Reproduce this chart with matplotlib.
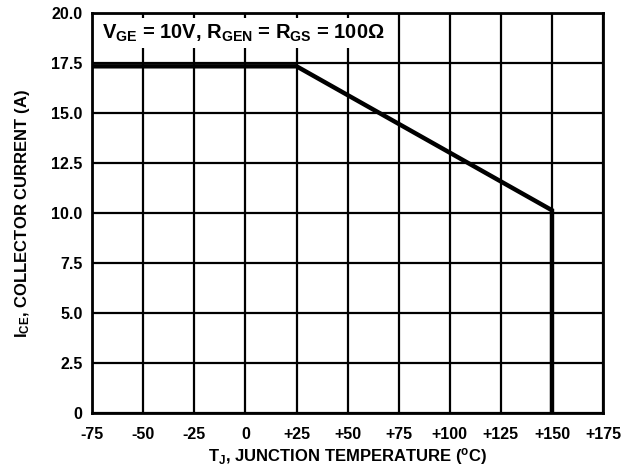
import matplotlib
matplotlib.use("Agg")
import matplotlib.pyplot as plt

# derating curve: collector current vs junction temperature
temp = [-75, 25, 150, 150]
current = [17.35, 17.35, 10.15, 0]

xticks = [-75, -50, -25, 0, 25, 50, 75, 100, 125, 150, 175]
xlabels = ['-75', '-50', '-25', '0', '+25', '+50', '+75', '+100', '+125', '+150', '+175']
yticks = [0, 2.5, 5.0, 7.5, 10.0, 12.5, 15.0, 17.5, 20.0]
ylabels = ['0', '2.5', '5.0', '7.5', '10.0', '12.5', '15.0', '17.5', '20.0']

plt.rcParams['font.family'] = ['Liberation Sans', 'DejaVu Sans']
plt.rcParams['font.weight'] = 'bold'
plt.rcParams['mathtext.fontset'] = 'custom'
plt.rcParams['mathtext.rm'] = 'Liberation Sans:bold'
plt.rcParams['mathtext.it'] = 'Liberation Sans:bold'
plt.rcParams['mathtext.bf'] = 'Liberation Sans:bold'

fig = plt.figure(figsize=(6.23, 4.75), dpi=100)
ax = fig.add_axes([0.148, 0.13, 0.82, 0.842])

ax.plot(temp, current, color='black', linewidth=3.2, solid_joinstyle='miter', zorder=3)

ax.set_xlim(-75, 175)
ax.set_ylim(0, 20)
ax.set_xticks(xticks)
ax.set_xticklabels(xlabels)
ax.set_yticks(yticks)
ax.set_yticklabels(ylabels)
ax.tick_params(axis='x', length=0, labelsize=11.5, pad=10)
ax.tick_params(axis='y', length=0, labelsize=11.5, pad=7)
ax.grid(True, color='black', linewidth=1.6)
for s in ax.spines.values():
    s.set_linewidth(2)

ax.set_xlabel(r'T$_\mathregular{J}$, JUNCTION TEMPERATURE ($^\mathregular{o}$C)', fontsize=12, fontweight='bold', labelpad=3)
ax.set_ylabel(r'I$_\mathregular{CE}$, COLLECTOR CURRENT (A)', fontsize=12, fontweight='bold', labelpad=14)

ax.text(-70, 19.0, r'V$_\mathregular{GE}$ = 10V, R$_\mathregular{GEN}$ = R$_\mathregular{GS}$ = 100$\Omega$',
        fontsize=14.5, fontweight='bold', va='center', ha='left', zorder=4,
        bbox=dict(facecolor='white', edgecolor='none', pad=3))

fig.savefig('out.png', dpi=100)
